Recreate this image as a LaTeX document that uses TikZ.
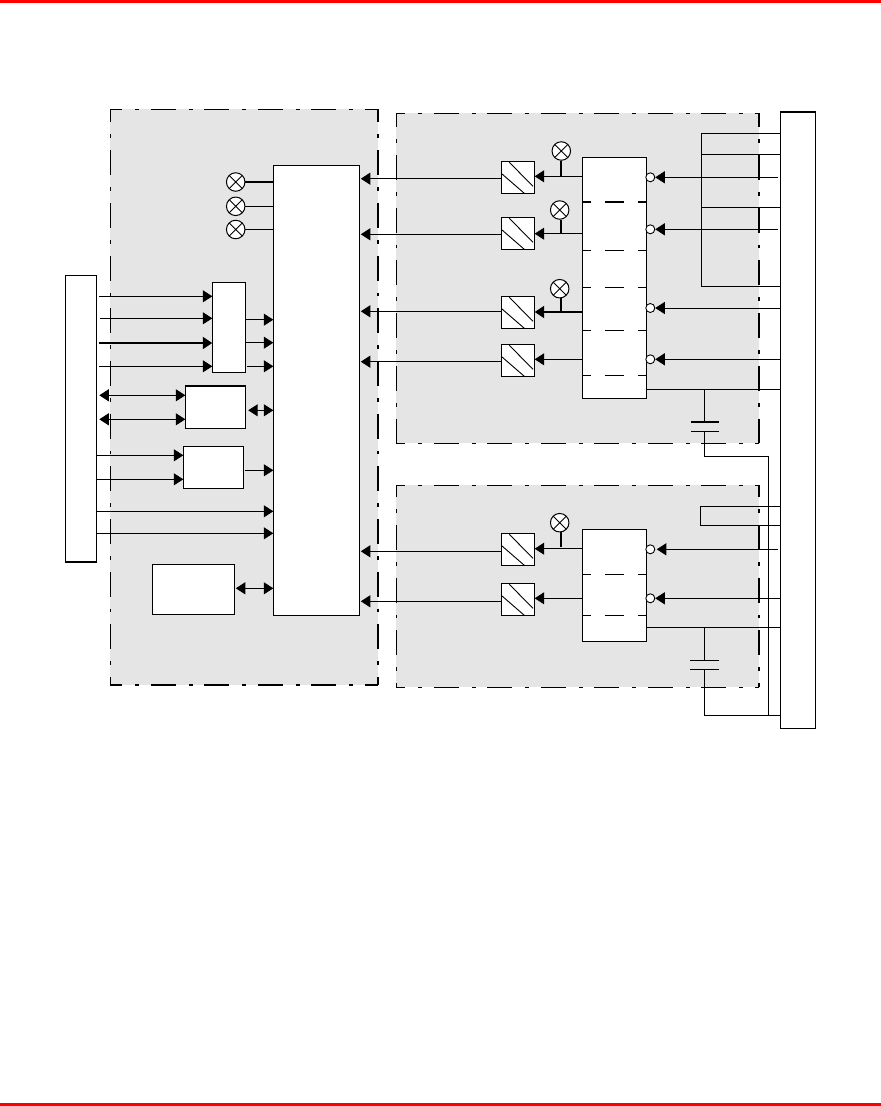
\documentclass[tikz,border=0pt]{standalone}
\usetikzlibrary{arrows.meta}
\definecolor{panelgray}{HTML}{E5E5E5}
\definecolor{barred}{HTML}{FF0000}
\tikzset{
  x=1pt,y=-1pt,
  wire/.style={line width=1pt,line cap=butt},
  thickwire/.style={line width=2pt},
  arr/.style={wire,-{Triangle[length=9.5pt,width=12pt]}},
  barr/.style={wire,{Triangle[length=9.5pt,width=12pt]}-{Triangle[length=9.5pt,width=12pt]}},
  blk/.style={draw,fill=white,line width=1pt,inner sep=0pt,rectangle},
  lamp/.style={circle,draw,fill=white,line width=1pt,inner sep=0pt,minimum size=18.5pt,
    path picture={\draw[line width=.9pt] (path picture bounding box.north west)--(path picture bounding box.south east)
      (path picture bounding box.north east)--(path picture bounding box.south west);}},
  bub/.style={circle,draw,fill=white,line width=.9pt,inner sep=0pt,minimum size=9pt},
  panel/.style={fill=panelgray,draw=none},
  hborder/.style={line width=1.2pt,dash pattern=on 25pt off 13pt on 4pt off 11.5pt,dash phase=#1},
  vborder/.style={line width=1.2pt,dash pattern=on 25pt off 12pt on 3.7pt off 12pt,dash phase=#1},
  sep/.style={line width=1pt},
  hatchline/.style={line width=.9pt},
}
\newcommand{\pbox}[6][]{\node[blk,#1,minimum width={(#5)-(#3)},minimum height={(#6)-(#4)},anchor=north west] (#2) at (#3,#4) {};}
\newcommand{\hatchbox}[3]{%
  \node[blk,minimum width=32.4pt,minimum height=32pt,anchor=north west] (#1) at (501.3,#2) {};
  \draw[hatchline] (501.3+8,#2+1) -- (501.3+31.7,#2+25);
  \draw[hatchline] (501.3+.5,#2+12.5) -- (501.3+23,#2+32);}
\newcommand{\chipsep}[2][sep]{%
  \draw[#1] (582.3,#2) -- (590.7,#2) (605,#2) -- (624,#2) (638.3,#2) -- (645.7,#2);}
\begin{document}
\begin{tikzpicture}
\useasboundingbox (0,0) rectangle (881,1106);
\fill[white] (0,0) rectangle (881,1106);
\fill[barred] (0,0) rectangle (881,3);
\fill[barred] (0,1103) rectangle (881,1106);

% panels
\fill[panel] (110.4,109.4) rectangle (378,685);
\fill[panel] (396.3,113.3) rectangle (759.3,443.3);
\fill[panel] (396.3,485.3) rectangle (759.3,687.3);
\draw[hborder=13pt] (110.4,109.4) -- (378,109.4);
\draw[hborder=13pt] (110.4,685) -- (378,685);
\draw[vborder=12pt] (110.4,109.4) -- (110.4,685);
\draw[vborder=12pt,line width=2pt] (378,109.4) -- (378,685);
\draw[hborder=16pt] (396.3,113.3) -- (759.3,113.3);
\draw[hborder=16pt] (396.3,443.3) -- (759.3,443.3);
\draw[vborder=11pt] (396.3,113.3) -- (396.3,443.3);
\draw[vborder=11pt,line width=2pt] (759.3,113.3) -- (759.3,443.3);
\draw[hborder=16pt] (396.3,485.3) -- (759.3,485.3);
\draw[hborder=16pt] (396.3,687.3) -- (759.3,687.3);
\draw[vborder=13pt] (396.3,485.3) -- (396.3,687.3);
\draw[vborder=13pt,line width=2pt] (759.3,485.3) -- (759.3,687.3);

% boxes
\pbox{lbus}{65.3}{275.3}{96.3}{561}
\pbox{rbus}{779.7}{112}{815.3}{728.3}
\pbox{main}{273.3}{165.3}{359.3}{615.3}
\pbox{mux}{212.3}{282.3}{244.7}{372.3}
\pbox{xcv}{185.3}{385.7}{244.7}{428.3}
\pbox{dec}{183.3}{446.3}{242.7}{488.3}
\pbox{mem}{152.3}{564.3}{234.3}{614.3}
\pbox{chipa}{582.3}{157.3}{645.7}{398.3}
\pbox{chipb}{582.3}{529.3}{645.7}{640.7}
\draw[thickwire] (rbus.north west) -- (rbus.north east);
\draw[thickwire] (lbus.south west) -- (lbus.south east);
\draw[thickwire] (xcv.north west) -- (xcv.north east);

% opto-coupler boxes
\hatchbox{oa}{161.3}{}
\hatchbox{ob}{217.3}{}
\hatchbox{oc}{296.3}{}
\hatchbox{od}{344.3}{}
\hatchbox{oe}{533.3}{}
\hatchbox{of}{583.3}{}

% left lamps
\node[lamp] (l1) at (235.7,182) {};
\node[lamp] (l2) at (235.7,206.3) {};
\node[lamp] (l3) at (235.7,229.5) {};
\draw[thickwire] (l1.east) -- (main.west |- l1.east);
\draw[wire] (l2.east) -- (main.west |- l2.east);
\draw[wire] (l3.east) -- (main.west |- l3.east);

% left side inputs
\draw[arr,shorten <=2pt] (lbus.east |- 0,296.3) -- (mux.west |- 0,296.3);
\draw[arr,shorten <=3pt] (lbus.east |- 0,318.3) -- (mux.west |- 0,318.3);
\draw[arr,shorten <=2pt,line width=2pt] (lbus.east |- 0,343) -- (mux.west |- 0,343);
\draw[arr,shorten <=2pt] (lbus.east |- 0,366.3) -- (mux.west |- 0,366.3);
\draw[arr] (mux.east |- 0,319.7) -- (main.west |- 0,319.7);
\draw[arr] (mux.east |- 0,342.7) -- (main.west |- 0,342.7);
\draw[arr,shorten <=1.5pt] (mux.east |- 0,366.3) -- (main.west |- 0,366.3);
\draw[barr,shorten <=2pt] (lbus.east |- 0,395.3) -- (xcv.west |- 0,395.3);
\draw[barr,shorten <=2pt] (lbus.east |- 0,419.3) -- (xcv.west |- 0,419.3);
\draw[barr,shorten <=2.5pt] (xcv.east |- 0,410.3) -- (main.west |- 0,410.3);
\draw[arr] (lbus.east |- 0,455.3) -- (dec.west |- 0,455.3);
\draw[arr] (lbus.east |- 0,479.3) -- (dec.west |- 0,479.3);
\draw[arr,shorten <=1.5pt] (dec.east |- 0,470.3) -- (main.west |- 0,470.3);
\draw[arr] (lbus.east |- 0,511.3) -- (main.west |- 0,511.3);
\draw[arr] (lbus.east |- 0,533.3) -- (main.west |- 0,533.3);
\draw[barr,shorten <=.5pt] (mem.east |- 0,588.3) -- (main.west |- 0,588.3);

% optos to main
\draw[arr,shorten >=.5pt] (oa.west |- 0,178.7) -- (main.east |- 0,178.7);
\draw[arr,shorten >=.5pt] (ob.west |- 0,234.3) -- (main.east |- 0,234.3);
\draw[arr,shorten >=.5pt] (oc.west |- 0,311.3) -- (main.east |- 0,311.3);
\draw[arr,shorten >=.5pt] (od.west |- 0,361.7) -- (main.east |- 0,361.7);
\draw[arr,shorten >=.5pt] (oe.west |- 0,551.3) -- (main.east |- 0,551.3);
\draw[arr,shorten >=.5pt] (of.west |- 0,601.3) -- (main.east |- 0,601.3);

% chips to optos
\draw[arr] (chipa.west |- 0,176.3) -- (oa.east |- 0,176.3);
\draw[arr] (chipa.west |- 0,233.7) -- (ob.east |- 0,233.7);
\draw[arr,line width=2pt] (chipa.west |- 0,312) -- (oc.east |- 0,312);
\draw[arr] (chipa.west |- 0,359.3) -- (od.east |- 0,359.3);
\draw[arr] (chipb.west |- 0,548.7) -- (oe.east |- 0,548.7);
\draw[arr] (chipb.west |- 0,598.3) -- (of.east |- 0,598.3);

% lamps on chip lines
\coordinate (ja) at (561,176.3);
\coordinate (jb) at (561,233.7);
\coordinate (jc) at (561,312);
\coordinate (jd) at (561,546.7);
\node[lamp] (la) at (561.3,151) {};
\node[lamp] (lb) at (559.7,210) {};
\node[lamp] (lc) at (559.7,288.7) {};
\node[lamp] (ld) at (559.7,522.7) {};
\draw[line width=1.6pt] (ja) -- (ja |- la.south);
\draw[line width=1.6pt] (jb) -- (jb |- lb.south);
\draw[line width=1.6pt] (jc) -- (jc |- lc.south);
\draw[line width=1.6pt] (jd) -- (jd |- ld.south);

% chip separators
\chipsep[thickwire]{201.7}
\chipsep{250.3}
\chipsep{287.3}
\chipsep{330.3}
\chipsep{375.3}
\chipsep{574.3}
\chipsep{615.3}

% inverted inputs
\node[bub] (ba) at (650.3,177.3) {};
\node[bub] (bb) at (650.3,229.3) {};
\node[bub] (bc) at (650.3,308) {};
\node[bub] (bd) at (650.3,359.3) {};
\node[bub] (be) at (650.3,549.3) {};
\node[bub] (bf) at (650.3,598.3) {};
\draw[arr,shorten <=2pt] (rbus.west |- ba) -- (ba.east);
\draw[arr,shorten <=2pt] (rbus.west |- bb) -- (bb.east);
\draw[arr] (rbus.west |- bc) -- (bc.east);
\draw[arr] (rbus.west |- bd) -- (bd.east);
\draw[arr,shorten <=2pt,shorten >=1.5pt] (rbus.west |- be) -- (be.east);
\draw[arr] (rbus.west |- bf) -- (bf.east);

% bridges on the upper panel
\coordinate (bra) at (701.7,133.3);
\coordinate (brb) at (701.7,286.3);
\draw[wire] (rbus.west |- bra) -- (bra) -- (brb) -- (rbus.west |- brb);
\draw[wire] (bra |- 0,154.3) -- (rbus.west |- 0,154.3);
\draw[wire] (bra |- 0,207.3) -- (rbus.west |- 0,207.3);

% bridge on the lower panel
\coordinate (brc) at (700.7,506.3);
\coordinate (brd) at (700.7,525.3);
\draw[wire] (rbus.west |- brc) -- (brc) -- (brd) -- (rbus.west |- brd);

% capacitors
\coordinate (oua) at (704.7,389.3);
\coordinate (oub) at (704.7,627.3);
\coordinate (cpa) at (704.7,422);
\coordinate (cpb) at (704.7,431.3);
\coordinate (cpc) at (704.7,660.3);
\coordinate (cpd) at (704.7,669.3);
\coordinate (rta) at (768.7,456.3);
\coordinate (rtb) at (704.7,715.3);
\draw[wire] (chipa.east |- oua) -- (rbus.west |- oua);
\draw[wire] (chipb.east |- oub) -- (rbus.west |- oub);
\draw[wire] (oua) -- (cpa);
\draw[line width=2pt] (691,422) -- (719,422);
\draw[wire] (691,431.3) -- (719,431.3);
\draw[wire] (cpb) -- (cpb |- rta) -- (rta) -- (rta |- rtb);
\draw[wire] (oub) -- (cpc);
\draw[wire] (690,660.3) -- (719,660.3);
\draw[wire] (690,669.3) -- (719,669.3);
\draw[wire] (cpd) -- (rtb) -- (rbus.west |- rtb);
\end{tikzpicture}
\end{document}
